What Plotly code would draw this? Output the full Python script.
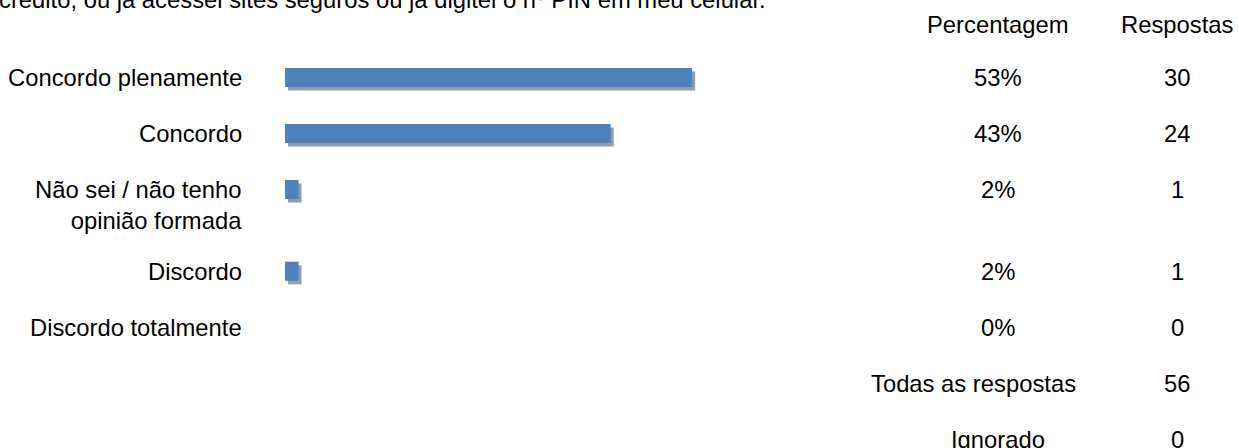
import plotly.graph_objects as go

# ---- data ----
categorias = ["Concordo plenamente", "Concordo", "Não sei / não tenho<br>opinião formada",
              "Discordo", "Discordo totalmente"]
respostas = [30, 24, 1, 1, 0]
percentagem_txt = [53, 43, 2, 2, 0]
ignorado = 0
titulo = "crédito, ou já acessei sites seguros ou já digitei o nº PIN em meu celular."
col_pct = "Percentagem"
col_resp = "Respostas"
lbl_total = "Todas as respostas"
lbl_ign = "Ignorado"

# ---- layout constants ----
W, H = 1238, 448
FONT = dict(family="Arial, Liberation Sans, sans-serif", size=23.8, color="#000000")
BAR_COLOR = "#4f81bd"
SHADOW_COLOR = "#909db3"
ML, MR = 285, 193            # x-axis spans 0..100 %
ROW_PX = 56.0                # px per row unit
FIRST_ROW_PX = 77.5
EXTRA_LINE = 0.46            # extra row units per extra label line
HEADER_GAP = 0.94
BAR_W = 0.34
SH_DX_PX, SH_DY_PX = 3.0, 3.5

total = sum(respostas)
pct = [r / total * 100 for r in respostas]

# row positions derived from label line counts
pos = []
y = 0.0
for i, c in enumerate(categorias):
    if i > 0:
        y += 1 + EXTRA_LINE * (categorias[i - 1].count("<br>"))
    pos.append(y)
y_total = pos[-1] + 1
y_ign = y_total + 1
y_head = -HEADER_GAP

plot_w = W - ML - MR
px_per_pct = plot_w / 100.0
sh_dx = SH_DX_PX / px_per_pct
sh_dy = SH_DY_PX / ROW_PX

fig = go.Figure()
fig.add_trace(go.Bar(
    x=pct, y=[p + sh_dy for p in pos], base=[sh_dx] * len(pct), orientation="h",
    width=BAR_W, marker=dict(color=SHADOW_COLOR, line=dict(width=0)),
    hoverinfo="skip", showlegend=False))
fig.add_trace(go.Bar(
    x=pct, y=pos, orientation="h", width=BAR_W,
    marker=dict(color=BAR_COLOR, line=dict(width=0)),
    showlegend=False))

ann = []
LINE_H = FONT["size"] * 1.3
for c, p, pt, r in zip(categorias, pos, percentagem_txt, respostas):
    nl = c.count("<br>")
    ann.append(dict(text=c, xref="x", x=0, xshift=-41, xanchor="right", align="right",
                    yref="y", y=p, yanchor="middle", yshift=-nl * LINE_H / 2,
                    showarrow=False, font=FONT))
    ann.append(dict(text=f"{pt}%", xref="paper", x=(997.5 - ML) / plot_w, xanchor="center",
                    yref="y", y=p, yanchor="middle", showarrow=False, font=FONT))
    ann.append(dict(text=str(r), xref="paper", x=(1177 - ML) / plot_w, xanchor="center",
                    yref="y", y=p, yanchor="middle", showarrow=False, font=FONT))

ann += [
    dict(text=col_pct, xref="paper", x=(997.5 - ML) / plot_w, xanchor="center",
         yref="y", y=y_head, yanchor="middle", showarrow=False, font=FONT),
    dict(text=col_resp, xref="paper", x=(1177.5 - ML) / plot_w, xanchor="center",
         yref="y", y=y_head, yanchor="middle", showarrow=False, font=FONT),
    dict(text=lbl_total, xref="paper", x=(973.5 - ML) / plot_w, xanchor="center",
         yref="y", y=y_total, yanchor="middle", showarrow=False, font=FONT),
    dict(text=str(total), xref="paper", x=(1177 - ML) / plot_w, xanchor="center",
         yref="y", y=y_total, yanchor="middle", showarrow=False, font=FONT),
    dict(text=lbl_ign, xref="paper", x=(998 - ML) / plot_w, xanchor="center",
         yref="y", y=y_ign, yanchor="middle", showarrow=False, font=FONT),
    dict(text=str(ignorado), xref="paper", x=(1177 - ML) / plot_w, xanchor="center",
         yref="y", y=y_ign, yanchor="middle", showarrow=False, font=FONT),
    dict(text=titulo, xref="paper", x=-ML / plot_w, xanchor="left", xshift=-3,
         yref="paper", y=1, yanchor="middle", yshift=1, showarrow=False, font=FONT),
]

y_top = -FIRST_ROW_PX / ROW_PX
y_bot = (H - FIRST_ROW_PX) / ROW_PX

fig.update_layout(
    width=W, height=H, margin=dict(l=ML, r=MR, t=0, b=0, pad=0),
    paper_bgcolor="white", plot_bgcolor="white", barmode="overlay",
    xaxis=dict(range=[0, 100], visible=False, fixedrange=True),
    yaxis=dict(range=[y_bot, y_top], visible=False, fixedrange=True),
    annotations=ann, font=FONT,
)
fig.write_html("out.html")
